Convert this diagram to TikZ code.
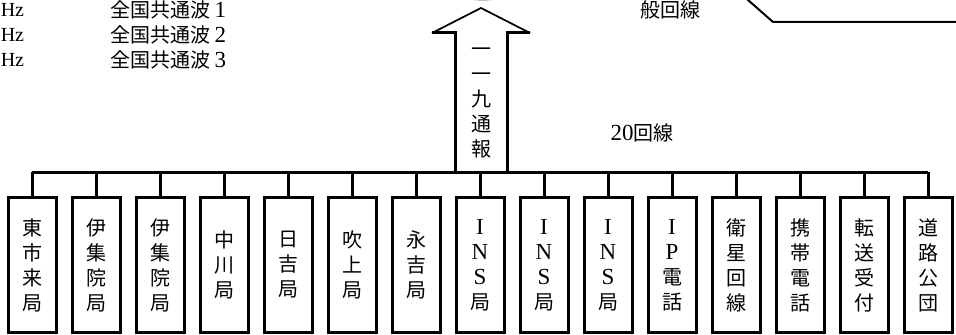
\documentclass[tikz,border=0pt]{standalone}
\usepackage{fontspec}
\setmainfont{Liberation Serif}
\newfontfamily\cjk{Noto Sans CJK JP}
\newfontfamily\latfont[Scale=1.15]{Liberation Serif}
\newcommand{\lat}[1]{{\latfont #1}}

\begin{document}
\begin{tikzpicture}[x=0.75pt,y=-0.75pt,
        station/.style={rectangle, draw, line width=2.25pt, minimum width=36pt,
             minimum height=101.6pt, inner sep=0pt, align=center,
             font=\cjk\fontsize{15}{18.75}\selectfont},
        cjktext/.style={inner sep=0pt, align=center,
             font=\cjk\fontsize{15}{18.75}\selectfont},
        trunk/.style={line width=2.25pt}]
        \useasboundingbox (0,0) rectangle (956,335);
        \clip (0,0) rectangle (956,335);

        \node[cjktext, anchor=west] (hz1) at (0.5,10) {{\rmfamily Hz}};
        \node[cjktext, anchor=west] (hz2) at (0.5,35) {{\rmfamily Hz}};
        \node[cjktext, anchor=west] (hz3) at (0.5,60) {{\rmfamily Hz}};
        \node[cjktext, anchor=west] (wave1) at (110,10) {全国共通波 \lat{1}};
        \node[cjktext, anchor=west] (wave2) at (110,35) {全国共通波 \lat{2}};
        \node[cjktext, anchor=west] (wave3) at (110,60) {全国共通波 \lat{3}};

        \draw[gray!70, line width=1pt] (483,-21) ellipse [x radius=38, y radius=21];
        \node[cjktext] (general) at (670,10) {般回線};
        \draw[line width=1.5pt] (744.6,-3) -- (773,22) -- (960,22);

        \node[station] (higashi) at (32,265) {東\\市\\来\\局};
        \node[station] (ijuin1) at (96,265) {伊\\集\\院\\局};
        \node[station] (ijuin2) at (160,265) {伊\\集\\院\\局};
        \node[station] (nakagawa) at (224,265) {中\\川\\局};
        \node[station] (hiyoshi) at (288,265) {日\\吉\\局};
        \node[station] (fukiage) at (352,265) {吹\\上\\局};
        \node[station] (nagayoshi) at (416,265) {永\\吉\\局};
        \node[station] (ins1) at (480,265) {\lat{I}\\\lat{N}\\\lat{S}\\局};
        \node[station] (ins2) at (544,265) {\lat{I}\\\lat{N}\\\lat{S}\\局};
        \node[station] (ins3) at (608,265) {\lat{I}\\\lat{N}\\\lat{S}\\局};
        \node[station] (ipphone) at (672,265) {\lat{I}\\\lat{P}\\電\\話};
        \node[station] (satellite) at (736,265) {衛\\星\\回\\線};
        \node[station] (mobile) at (800,265) {携\\帯\\電\\話};
        \node[station] (transfer) at (864,265) {転\\送\\受\\付};
        \node[station] (road) at (928,265) {道\\路\\公\\団};

        % bus to the stations
        \coordinate (bus) at (0,172);
        \draw[trunk] (higashi.north |- bus) -- (road.north |- bus);
        \draw[trunk] (higashi.north) -- (higashi.north |- bus);
        \draw[trunk] (ijuin1.north) -- (ijuin1.north |- bus);
        \draw[trunk] (ijuin2.north) -- (ijuin2.north |- bus);
        \draw[trunk] (nakagawa.north) -- (nakagawa.north |- bus);
        \draw[trunk] (hiyoshi.north) -- (hiyoshi.north |- bus);
        \draw[trunk] (fukiage.north) -- (fukiage.north |- bus);
        \draw[trunk] (nagayoshi.north) -- (nagayoshi.north |- bus);
        \draw[trunk] (ins1.north) -- (ins1.north |- bus);
        \draw[trunk] (ins2.north) -- (ins2.north |- bus);
        \draw[trunk] (ins3.north) -- (ins3.north |- bus);
        \draw[trunk] (ipphone.north) -- (ipphone.north |- bus);
        \draw[trunk] (satellite.north) -- (satellite.north |- bus);
        \draw[trunk] (mobile.north) -- (mobile.north |- bus);
        \draw[trunk] (transfer.north) -- (transfer.north |- bus);
        \draw[trunk] (road.north) -- (road.north |- bus);

        % hollow arrow
        \node[cjktext] (report) at (481,103) {一\\一\\九\\通\\報};
        \draw[trunk] (432,33) -- (455,33) -- (455,0 |- bus);
        \draw[trunk] (530,33) -- (507,33) -- (507,0 |- bus);
        \draw[line width=1.3pt] (432,33) -- (481,8) -- (530,33);

        \node[cjktext] (lines) at (642,133) {\lat{20}回線};
\end{tikzpicture}
\end{document}
